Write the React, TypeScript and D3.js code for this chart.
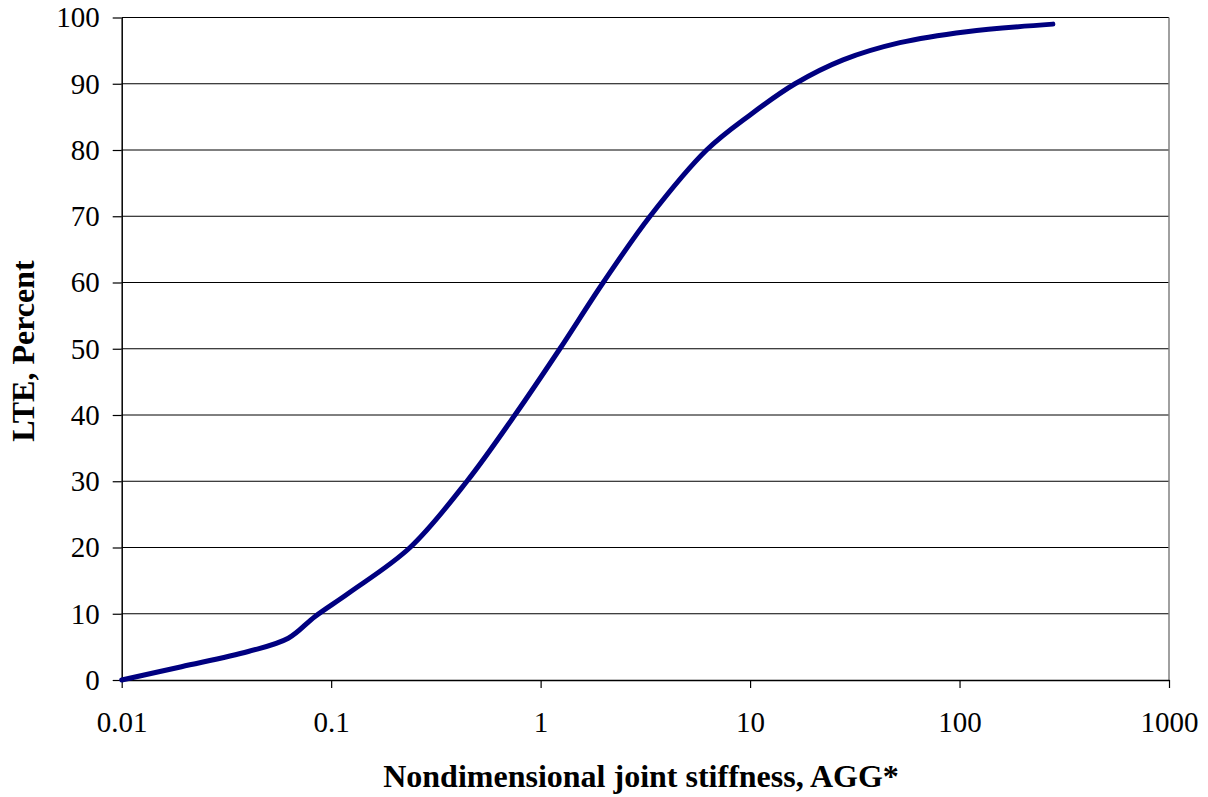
import React, { useEffect, useRef } from 'react';
import * as d3 from 'd3';

// AGG* (nondimensional joint stiffness) vs LTE (%)
const aggValues = [0.01, 0.0193, 0.0402, 0.0624, 0.0838, 0.121, 0.238, 0.445, 0.754, 1.236, 1.99, 3.33, 6.2, 10, 16.4, 27.8, 51.9, 108, 279];
const lteValues = [0, 2.0, 4.3, 6.3, 9.6, 13.1, 20, 30, 40, 50, 60, 70, 80, 85.3, 90, 93.6, 96.2, 97.86, 99];
const xTicks = [0.01, 0.1, 1, 10, 100, 1000];
const xTickLabels = ['0.01', '0.1', '1', '10', '100', '1000'];
const yTicks = [0, 10, 20, 30, 40, 50, 60, 70, 80, 90, 100];

export default function App() {
  const ref = useRef<SVGSVGElement>(null);

  useEffect(() => {
    if (!ref.current) return;
    const svg = d3.select(ref.current);
    svg.selectAll('*').remove();

    const width = 1208;
    const height = 797;
    const margin = { top: 17.5, right: 39, bottom: 117, left: 121.7 };
    const font = '"Liberation Serif", "Times New Roman", serif';

    const x = d3.scaleLog()
      .domain([0.01, 1000])
      .range([margin.left, width - margin.right]);

    const y = d3.scaleLinear()
      .domain([0, 100])
      .range([height - margin.bottom, margin.top]);

    // Grid lines
    svg.append('g')
      .selectAll('line')
      .data(yTicks.filter(d => d > 0))
      .enter()
      .append('line')
      .attr('x1', margin.left)
      .attr('x2', width - margin.right)
      .attr('y1', d => y(d))
      .attr('y2', d => y(d))
      .attr('stroke', '#000')
      .attr('stroke-width', 1);

    // right border
    svg.append('line')
      .attr('x1', width - margin.right)
      .attr('x2', width - margin.right)
      .attr('y1', margin.top)
      .attr('y2', height - margin.bottom)
      .attr('stroke', '#808080')
      .attr('stroke-width', 1.5);

    // X-axis
    const xAxis = svg.append('g')
      .attr('transform', `translate(0,${height - margin.bottom})`)
      .call(d3.axisBottom(x)
        .tickValues(xTicks)
        .tickFormat((_, i) => xTickLabels[i])
        .tickSizeInner(8)
        .tickSizeOuter(0)
        .tickPadding(23));
    xAxis.select('.domain').attr('stroke', '#000').attr('stroke-width', 1.5);
    xAxis.selectAll('.tick line').attr('stroke', '#000').attr('stroke-width', 1.2);
    xAxis.selectAll('text')
      .attr('fill', '#000')
      .attr('font-size', '29px')
      .attr('font-family', font);

    // Y-axis
    const yAxis = svg.append('g')
      .attr('transform', `translate(${margin.left},0)`)
      .call(d3.axisLeft(y)
        .tickValues(yTicks)
        .tickSizeInner(9)
        .tickSizeOuter(0)
        .tickPadding(13));
    yAxis.select('.domain').attr('stroke', '#000').attr('stroke-width', 1.5);
    yAxis.selectAll('.tick line').attr('stroke', '#000').attr('stroke-width', 1.2);
    yAxis.selectAll('text')
      .attr('fill', '#000')
      .attr('font-size', '29px')
      .attr('font-family', font);

    // Curve
    const data = aggValues.map((v, i) => ({ agg: v, lte: lteValues[i] }));
    const line = d3.line<{ agg: number; lte: number }>()
      .x(d => x(d.agg))
      .y(d => y(d.lte))
      .curve(d3.curveCatmullRom.alpha(0.5));

    svg.append('path')
      .datum(data)
      .attr('fill', 'none')
      .attr('stroke', '#000080')
      .attr('stroke-width', 5)
      .attr('stroke-linecap', 'round')
      .attr('stroke-linejoin', 'round')
      .attr('d', line);

    // Axis titles
    svg.append('text')
      .attr('x', 641)
      .attr('y', 787)
      .attr('text-anchor', 'middle')
      .attr('font-family', font)
      .attr('font-weight', 'bold')
      .attr('font-size', '32px')
      .attr('fill', '#000')
      .text('Nondimensional joint stiffness, AGG*');

    svg.append('text')
      .attr('transform', `translate(34,351) rotate(-90)`)
      .attr('text-anchor', 'middle')
      .attr('font-family', font)
      .attr('font-weight', 'bold')
      .attr('font-size', '32px')
      .attr('fill', '#000')
      .text('LTE, Percent');
  }, []);

  return (
    <svg
      ref={ref}
      width={1208}
      height={797}
      style={{ position: 'absolute', left: 0, top: 0, background: '#fff' }}
    />
  );
}
